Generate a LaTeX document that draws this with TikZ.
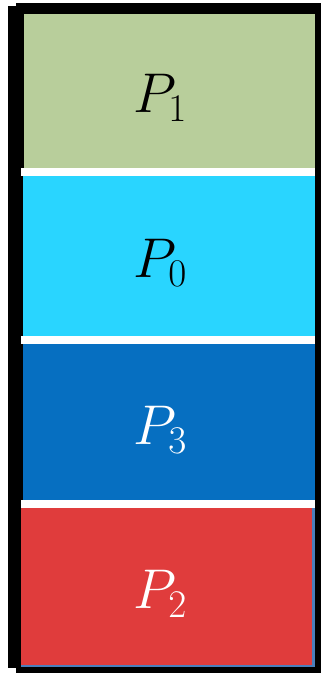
\RequirePackage{fix-cm}
\documentclass[tikz,border=0pt]{standalone}
\definecolor{cgreen}{HTML}{B8CE9B}
\definecolor{ccyan}{HTML}{29D5FF}
\definecolor{cblue}{HTML}{066FC1}
\definecolor{cred}{HTML}{E03C3C}
\definecolor{cedge}{HTML}{4A7EBB}
\tikzset{lbl/.style={inner sep=0pt,font=\fontsize{56}{60}\selectfont}}
\begin{document}
\begin{tikzpicture}[x=1pt,y=-1pt]
\useasboundingbox (0,0) rectangle (321,677);
\fill[white] (0,0) rectangle (321,677);
% black frame
\fill[black] (16,3) rectangle (321,673);
\fill[black] (8,6) rectangle (16,668);
% blocks
\fill[cgreen] (24,14) rectangle (315,168);
\fill[white] (21,168) rectangle (315,176);
\fill[ccyan] (23,176) rectangle (315,336);
\fill[white] (21,336) rectangle (315,344);
\fill[cblue] (23,344) rectangle (315,500);
\fill[white] (21,500) rectangle (315,508);
\fill[cedge] (21,508) rectangle (315,667);
\fill[cred] (21,508) rectangle (312,665);
% labels
\node[lbl] (p1) at (160,98) {$P_1$};
\node[lbl] (p0) at (160,263) {$P_0$};
\node[lbl,white] (p3) at (160,430) {$P_3$};
\node[lbl,white] (p2) at (160,594) {$P_2$};
\end{tikzpicture}
\end{document}
